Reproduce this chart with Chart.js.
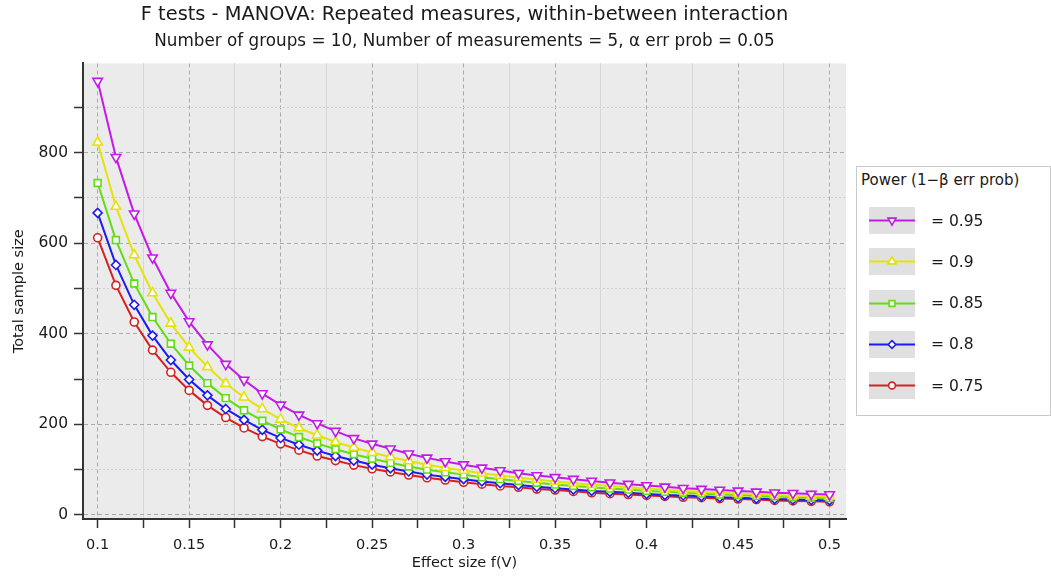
<!DOCTYPE html>
<html>
<head>
<meta charset="utf-8">
<title>F tests - MANOVA: Repeated measures, within-between interaction</title>
<script src="https://cdn.jsdelivr.net/npm/chart.js@4.4.1/dist/chart.umd.min.js"></script>
<style>
    body { margin: 0; background: #ffffff; }
    #wrap { position: relative; width: 1051px; height: 577px; }
    #legend-box {
        position: absolute; left: 856px; top: 166px; width: 193px; height: 248px;
        border: 1px solid #c9c9c9; background: #ffffff;
        font-family: 'DejaVu Sans', sans-serif; color: #1a1a1a;
    }
    #legend-box .legend-title { position: absolute; left: 4px; top: 4px; font-size: 15px; }
    #legend-items { position: absolute; left: 12px; top: 40px; }
    .legend-row { display: flex; align-items: center; height: 27px; margin-bottom: 14.3px; }
    .legend-row canvas { display: block; }
    .legend-row span { margin-left: 16px; font-size: 15.5px; }
</style>
</head>
<body>
<div id="wrap">
    <canvas id="power-chart" width="1051" height="577"></canvas>
    <div id="legend-box">
        <div class="legend-title">Power (1−β err prob)</div>
        <div id="legend-items"></div>
    </div>
</div>
<script>

// effect size f(V) on the x axis
var effectSizes = [0.10, 0.11, 0.12, 0.13, 0.14, 0.15, 0.16, 0.17, 0.18, 0.19,
    0.20, 0.21, 0.22, 0.23, 0.24, 0.25, 0.26, 0.27, 0.28, 0.29,
    0.30, 0.31, 0.32, 0.33, 0.34, 0.35, 0.36, 0.37, 0.38, 0.39,
    0.40, 0.41, 0.42, 0.43, 0.44, 0.45, 0.46, 0.47, 0.48, 0.49, 0.50];

// total sample size, one list per power level
var power95 = [958, 790, 665, 568, 490, 427, 376, 333, 298, 268,
    243, 221, 202, 185, 169, 157, 146, 135, 126, 118,
    111, 104, 98, 92, 87, 83, 79, 75, 71, 68,
    65, 62, 59, 57, 55, 53, 51, 49, 48, 46, 45];
var power90 = [823, 681, 574, 490, 423, 370, 327, 290, 260, 234,
    211, 192, 176, 161, 149, 138, 128, 119, 111, 104,
    98, 92, 87, 82, 78, 74, 70, 67, 64, 61,
    58, 56, 53, 51, 49, 47, 46, 44, 42, 41, 40];
var power85 = [733, 607, 511, 437, 378, 330, 291, 258, 231, 208,
    189, 172, 158, 145, 134, 124, 115, 107, 100, 94,
    89, 83, 79, 75, 71, 67, 64, 61, 58, 56,
    53, 51, 49, 47, 45, 44, 42, 41, 39, 38, 37];
var power80 = [667, 552, 464, 396, 342, 299, 264, 234, 210, 188,
    170, 155, 142, 130, 120, 111, 103, 96, 89, 84,
    79, 74, 70, 66, 62, 59, 56, 53, 51, 49,
    46, 44, 43, 41, 39, 38, 36, 35, 34, 33, 32];
var power75 = [612, 507, 426, 364, 315, 275, 242, 215, 192, 173,
    157, 143, 130, 120, 110, 102, 95, 88, 82, 77,
    72, 68, 64, 61, 57, 55, 52, 49, 47, 45,
    43, 41, 39, 38, 36, 35, 34, 32, 31, 30, 29];

var seriesLabels = ['= 0.95', '= 0.9', '= 0.85', '= 0.8', '= 0.75'];

// tick positions
var xMajorTicks = [0.1, 0.15, 0.2, 0.25, 0.3, 0.35, 0.4, 0.45, 0.5];
var xMinorTicks = [0.125, 0.175, 0.225, 0.275, 0.325, 0.375, 0.425, 0.475];
var yMajorTicks = [0, 200, 400, 600, 800];
var yMinorTicks = [100, 300, 500, 700, 900];

Chart.defaults.font.family = "'DejaVu Sans', sans-serif";
Chart.defaults.color = '#1a1a1a';

function isMajorX(v) {
    return Math.abs(v * 20 - Math.round(v * 20)) < 1e-6;
}

function MakeDataset(label, values, color, style, rotation, radius) {
    return {
        label: label,
        data: values,
        borderColor: color,
        backgroundColor: color,
        borderWidth: 2,
        pointStyle: style,
        pointRotation: rotation,
        pointRadius: radius,
        pointBackgroundColor: '#ffffff',
        pointBorderColor: color,
        pointBorderWidth: 1.6,
        tension: 0
    };
}

var plotBackground = {
    id: 'plotBackground',
    beforeDraw: function (chart) {
        var a = chart.chartArea;
        var ctx = chart.ctx;
        ctx.save();
        ctx.fillStyle = '#ebebeb';
        ctx.fillRect(a.left, a.top, a.right - a.left, a.bottom - a.top);
        ctx.restore();
    }
};

var powerChart = null;
function PowerChart() {

    var chartData = {
        labels: effectSizes,
        datasets: [
            MakeDataset(seriesLabels[0], power95, '#c41ae8', 'triangle', 180, 5.5),
            MakeDataset(seriesLabels[1], power90, '#e3e30a', 'triangle', 0, 5.5),
            MakeDataset(seriesLabels[2], power85, '#62dd12', 'rect', 0, 4.8),
            MakeDataset(seriesLabels[3], power80, '#1c1cf2', 'rectRot', 0, 4.5),
            MakeDataset(seriesLabels[4], power75, '#d42222', 'circle', 0, 4)
        ]
    };

    var chartOptions = {
        responsive: false,
        animation: false,
        events: [],
        layout: { padding: { left: 0, right: 205, top: 0, bottom: 0 } },
        plugins: {
            legend: { display: false },
            tooltip: { enabled: false },
            title: {
                display: true,
                fullSize: false,
                text: 'F tests - MANOVA: Repeated measures, within-between interaction',
                font: { size: 19.4, weight: 'normal' },
                padding: { top: 3, bottom: 1 }
            },
            subtitle: {
                display: true,
                fullSize: false,
                text: 'Number of groups = 10, Number of measurements = 5, α err prob = 0.05',
                font: { size: 16.8 },
                color: '#1a1a1a',
                padding: { top: 4, bottom: 12 }
            }
        },
        scales: {
            x: {
                type: 'linear',
                position: 'bottom',
                min: 0.092,
                max: 0.509,
                afterBuildTicks: function (scale) {
                    scale.ticks = xMajorTicks.concat(xMinorTicks).sort().map(function (v) { return { value: v }; });
                },
                afterFit: function (scale) { scale.height = 58; },
                ticks: {
                    autoSkip: false,
                    maxRotation: 0,
                    padding: 9,
                    font: { size: 14.5 },
                    callback: function (v) { return isMajorX(v) ? String(Math.round(v * 100) / 100) : ''; }
                },
                grid: {
                    color: function (c) { return c.tick && isMajorX(c.tick.value) ? '#a9a9a9' : 'rgba(0,0,0,0)'; },
                    lineWidth: 1,
                    tickLength: 9,
                    tickColor: '#333333',
                    tickWidth: 1.5
                },
                border: { display: true, color: '#333333', width: 2, dash: [4, 3] },
                title: { display: true, text: 'Effect size f(V)', font: { size: 14.5 }, padding: { top: 0, bottom: 5 } }
            },
            x2: {
                type: 'linear',
                position: 'top',
                min: 0.092,
                max: 0.509,
                afterBuildTicks: function (scale) {
                    scale.ticks = xMinorTicks.map(function (v) { return { value: v }; });
                },
                afterFit: function (scale) { scale.height = 0; },
                ticks: { display: false },
                grid: { color: '#d6d6d6', lineWidth: 1, drawTicks: false },
                border: { display: false }
            },
            y: {
                type: 'linear',
                position: 'left',
                min: -9,
                max: 997,
                afterBuildTicks: function (scale) {
                    scale.ticks = yMajorTicks.concat(yMinorTicks).sort(function (a, b) { return a - b; }).map(function (v) { return { value: v }; });
                },
                afterFit: function (scale) { scale.width = 83; },
                ticks: {
                    autoSkip: false,
                    padding: 6,
                    font: { size: 15.5 },
                    callback: function (v) { return v % 200 === 0 ? String(v) : ''; }
                },
                grid: {
                    color: function (c) { return c.tick && c.tick.value % 200 === 0 ? '#a9a9a9' : 'rgba(0,0,0,0)'; },
                    lineWidth: 1,
                    tickLength: 9,
                    tickColor: '#333333',
                    tickWidth: 1.5
                },
                border: { display: true, color: '#333333', width: 2, dash: [4, 3] },
                title: { display: true, text: 'Total sample size', font: { size: 14.5 }, padding: { top: 11, bottom: 0 } }
            },
            y2: {
                type: 'linear',
                position: 'right',
                min: -9,
                max: 997,
                afterBuildTicks: function (scale) {
                    scale.ticks = yMinorTicks.map(function (v) { return { value: v }; });
                },
                afterFit: function (scale) { scale.width = 0; },
                ticks: { display: false },
                grid: { color: '#cfcfcf', lineWidth: 1, drawTicks: false },
                border: { display: false, dash: [2, 2] }
            }
        }
    };

    var chartCanvas = document.getElementById('power-chart').getContext('2d');
    powerChart = new Chart(chartCanvas, {
        type: 'line',
        data: chartData,
        options: chartOptions,
        plugins: [plotBackground]
    });
}

// legend with grey swatch, line and marker like the original
function BuildLegend(chart) {
    var holder = document.getElementById('legend-items');
    chart.data.datasets.forEach(function (ds) {
        var row = document.createElement('div');
        row.className = 'legend-row';
        var sw = document.createElement('canvas');
        sw.width = 46;
        sw.height = 27;
        var ctx = sw.getContext('2d');
        ctx.fillStyle = '#e0e0e0';
        ctx.fillRect(0, 0, 46, 27);
        ctx.strokeStyle = ds.borderColor;
        ctx.lineWidth = 2;
        ctx.beginPath();
        ctx.moveTo(0, 13.5);
        ctx.lineTo(46, 13.5);
        ctx.stroke();
        ctx.fillStyle = '#ffffff';
        ctx.lineWidth = 1.6;
        Chart.helpers.drawPoint(ctx, {
            pointStyle: ds.pointStyle,
            rotation: ds.pointRotation,
            radius: ds.pointRadius * 0.85,
            borderWidth: 1.6
        }, 23, 13.5);
        var txt = document.createElement('span');
        txt.textContent = ds.label;
        row.appendChild(sw);
        row.appendChild(txt);
        holder.appendChild(row);
    });
}

PowerChart();
BuildLegend(powerChart);

</script>
</body>
</html>
